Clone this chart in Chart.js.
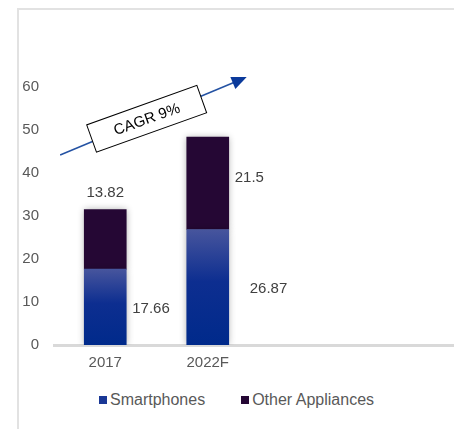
<!DOCTYPE html>
<html>
<head>
<meta charset="utf-8">
<script src="https://cdn.jsdelivr.net/npm/chart.js@4/dist/chart.umd.min.js"></script>
<style>
  html, body { margin: 0; padding: 0; background: #fff; overflow: hidden; width: 454px; height: 429px; }
  #frame { position: absolute; left: 17px; top: 8px; width: 460px; height: 440px;
           border-left: 2px solid #e2e2e2; border-top: 2px solid #e2e2e2; }
  #wrap { position: absolute; left: 0; top: 0; width: 464px; height: 380px; }
  #legend { position: absolute; left: 99px; top: 391px; display: flex; align-items: center;
            font: 16px 'Liberation Sans', Arial, sans-serif; color: #595959; }
  #legend .item { display: flex; align-items: center; margin-right: 36px; }
  #legend .box { width: 8px; height: 8px; margin-right: 3px; }
</style>
</head>
<body>
<div id="frame"></div>
<div id="wrap"><canvas id="chart" width="464" height="380"></canvas></div>
<div id="legend"></div>
<script>
// Market size by year, stacked: smartphones at the bottom, other appliances on top
const categories = ['2017', '2022F', '', ''];
const smartphones = [17.66, 26.87, null, null];
const otherAppliances = [13.82, 21.5, null, null];
const seriesNames = ['Smartphones', 'Other Appliances'];
const growthLabel = 'CAGR 9%';

const FONT = "'Liberation Sans', Arial, sans-serif";

// Blue fill that fades from a greyish blue at the top of each bar to deep blue
function smartphoneFill(ctx) {
  const chart = ctx.chart;
  const ys = chart.scales.y;
  if (!chart.chartArea || !ys || ctx.raw == null) return '#0c2d90';
  const top = ys.getPixelForValue(ctx.raw);
  const base = ys.getPixelForValue(0);
  const g = chart.ctx.createLinearGradient(0, top, 0, base);
  g.addColorStop(0, '#47559d');
  g.addColorStop(0.45, '#0d2e90');
  g.addColorStop(1, '#002a8b');
  return g;
}

// Soft grey halo behind the bars
const barShadow = {
  id: 'barShadow',
  beforeDatasetsDraw(chart) {
    const c = chart.ctx;
    c.save();
    c.shadowColor = 'rgba(0,0,0,0.32)';
    c.shadowBlur = 7;
  },
  afterDatasetsDraw(chart) { chart.ctx.restore(); }
};

// Value labels placed beside / above each segment
const valueLabels = {
  id: 'valueLabels',
  afterDraw(chart, args, opts) {
    const c = chart.ctx;
    c.save();
    c.font = opts.font;
    c.fillStyle = opts.color;
    c.textBaseline = 'middle';
    chart.data.datasets.forEach((ds, di) => {
      const meta = chart.getDatasetMeta(di);
      meta.data.forEach((el, i) => {
        const v = ds.data[i];
        if (v == null) return;
        const p = (opts.placement[di] || [])[i] || { side: 'right', gap: 6, dy: 0 };
        const text = String(v);
        if (p.side === 'top') {
          c.textAlign = 'center';
          c.fillText(text, el.x, el.y - p.gap);
        } else {
          c.textAlign = 'left';
          c.fillText(text, el.x + el.width / 2 + p.gap, (el.y + el.base) / 2 + (p.dy || 0));
        }
      });
    });
    c.restore();
  }
};

// Growth arrow with a tilted label box
const growthArrow = {
  id: 'growthArrow',
  afterDraw(chart, args, opts) {
    const xs = chart.scales.x, ys = chart.scales.y, c = chart.ctx;
    const x0 = xs.getPixelForValue(0), step = xs.getPixelForValue(1) - x0;
    const px = i => x0 + i * step;
    const sx = px(opts.from[0]), sy = ys.getPixelForValue(opts.from[1]);
    const ex = px(opts.to[0]), ey = ys.getPixelForValue(opts.to[1]);
    const ang = Math.atan2(ey - sy, ex - sx);
    const headLen = 15, headHalf = 6.5;
    c.save();
    c.strokeStyle = opts.lineColor;
    c.lineWidth = 1.5;
    c.beginPath();
    c.moveTo(sx, sy);
    c.lineTo(ex - Math.cos(ang) * headLen * 0.8, ey - Math.sin(ang) * headLen * 0.8);
    c.stroke();
    c.fillStyle = opts.headColor;
    c.beginPath();
    c.moveTo(ex, ey);
    c.lineTo(ex - Math.cos(ang) * headLen + Math.sin(ang) * headHalf,
             ey - Math.sin(ang) * headLen - Math.cos(ang) * headHalf);
    c.lineTo(ex - Math.cos(ang) * headLen - Math.sin(ang) * headHalf,
             ey - Math.sin(ang) * headLen + Math.cos(ang) * headHalf);
    c.closePath();
    c.fill();
    // label box
    const bx = px(opts.boxAt[0]), by = ys.getPixelForValue(opts.boxAt[1]);
    c.translate(bx, by);
    c.rotate(opts.boxAngle * Math.PI / 180);
    c.fillStyle = '#fff';
    c.strokeStyle = '#000';
    c.lineWidth = 1;
    c.fillRect(-opts.boxW / 2, -opts.boxH / 2, opts.boxW, opts.boxH);
    c.strokeRect(-opts.boxW / 2, -opts.boxH / 2, opts.boxW, opts.boxH);
    c.fillStyle = '#000';
    c.font = '15px ' + FONT;
    c.textAlign = 'center';
    c.textBaseline = 'middle';
    c.fillText(opts.text, 0, 1);
    c.restore();
  }
};

const chart = new Chart(document.getElementById('chart'), {
  type: 'bar',
  data: {
    labels: categories,
    datasets: [
      { label: seriesNames[0], data: smartphones, backgroundColor: smartphoneFill, legendColor: '#1a3896' },
      { label: seriesNames[1], data: otherAppliances, backgroundColor: '#250734', legendColor: '#250734' }
    ]
  },
  options: {
    responsive: false,
    animation: false,
    layout: { padding: { top: 87, left: 0, right: 0, bottom: 0 } },
    datasets: { bar: { barThickness: 42, borderWidth: 0 } },
    scales: {
      x: {
        stacked: true,
        grid: { display: false },
        border: { display: true, color: '#d9d9d9', width: 3 },
        ticks: { color: '#595959', font: { family: FONT, size: 15 }, padding: 1 },
        afterFit(s) { s.height = 35; }
      },
      y: {
        stacked: true,
        min: 0, max: 60,
        grid: { display: false },
        border: { display: false },
        ticks: { stepSize: 10, color: '#595959', font: { family: FONT, size: 15 }, padding: 7 },
        afterFit(s) { s.width = 54; }
      }
    },
    plugins: {
      legend: { display: false },
      tooltip: { enabled: false },
      valueLabels: {
        font: '15px ' + FONT,
        color: '#404040',
        placement: [
          [{ side: 'right', gap: 6, dy: 2 }, { side: 'right', gap: 21, dy: 2 }],
          [{ side: 'top', gap: 17 }, { side: 'right', gap: 6, dy: -5 }]
        ]
      },
      growthArrow: {
        text: growthLabel,
        from: [-0.44, 44.2], to: [1.38, 62.3],
        boxAt: [0.404, 52.6], boxW: 117, boxH: 29, boxAngle: -19.7,
        lineColor: '#2452a3', headColor: '#0b3a9b'
      }
    }
  },
  plugins: [barShadow, valueLabels, growthArrow]
});

// Legend built from the datasets
const legend = document.getElementById('legend');
chart.data.datasets.forEach(ds => {
  const item = document.createElement('div');
  item.className = 'item';
  const box = document.createElement('span');
  box.className = 'box';
  box.style.background = ds.legendColor;
  const txt = document.createElement('span');
  txt.textContent = ds.label;
  item.appendChild(box);
  item.appendChild(txt);
  legend.appendChild(item);
});
</script>
</body>
</html>
